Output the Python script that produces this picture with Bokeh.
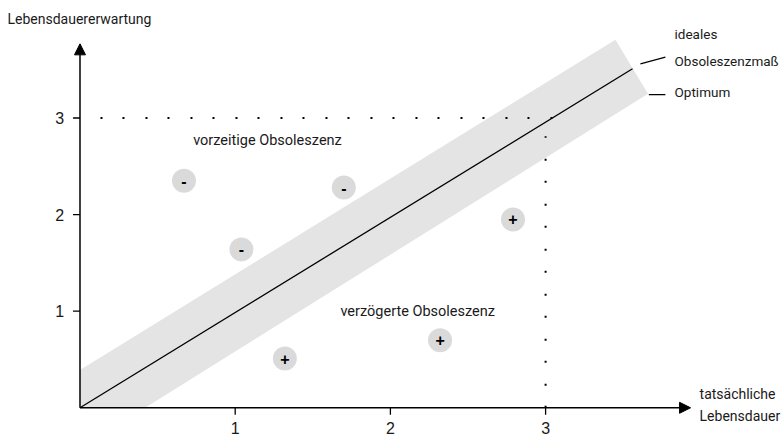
from bokeh.plotting import figure
from bokeh.models import Range1d, Arrow, NormalHead
from bokeh.core.properties import value
from bokeh.embed import file_html
from bokeh.resources import INLINE

# ---------------- data ----------------
x_ticks = [1, 2, 3]
y_ticks = [1, 2, 3]
tick_labels = ["1", "2", "3"]

# ideal obsolescence line (expected = actual)
ideal_x = [0.0, 3.56]
ideal_y = [0.0, 3.51]

# tolerance band around the ideal line
band_x = [0.0, 0.0, 3.45, 3.66, 0.42]
band_y = [0.0, 0.39, 3.81, 3.25, 0.0]

# optimum point (dotted guides)
optimum_x = 3.0
optimum_y = 3.0

# products: too early (-) and delayed (+)
minus_x = [0.67, 1.70, 1.04]
minus_y = [2.35, 2.28, 1.64]
plus_x = [1.32, 2.32, 2.79]
plus_y = [0.51, 0.70, 1.95]

title_text = "Lebensdauererwartung"
x_label = ["tatsächliche", "Lebensdauer"]
region_labels = ["vorzeitige Obsoleszenz", "verzögerte Obsoleszenz"]
line_labels = ["ideales", "Obsoleszenzmaß", "Optimum"]

# ---------------- layout ----------------
FONT = value("Roboto")
TXT = "#1a1a1a"

p = figure(width=783, height=437,
           x_range=Range1d(-0.5122, 4.5329), y_range=Range1d(-0.3075, 4.2164),
           output_backend="svg", toolbar_location=None,
           x_axis_type=None, y_axis_type=None, min_border=0,
           outline_line_color=None, background_fill_color="white",
           border_fill_color="white")

# band
p.patch(band_x, band_y, fill_color="#e4e4e4", line_color=None)

# ideal line
p.line(ideal_x, ideal_y, line_color="black", line_width=1.3)

# dotted guides to the optimum
p.line([0.132, optimum_x + 0.044], [optimum_y, optimum_y], line_color="black",
       line_width=2, line_dash="2 20 2 21")
p.line([optimum_x, optimum_x], [0, optimum_y - 0.19], line_color="black",
       line_width=2, line_dash="2 20 2 21")

# axes with arrows
head = dict(size=11, fill_color="black", line_color="black", line_width=1)
p.add_layout(Arrow(end=NormalHead(**head), x_start=0, y_start=0, x_end=3.934, y_end=0,
                   line_width=1.5, line_color="black"))
p.add_layout(Arrow(end=NormalHead(**head), x_start=0, y_start=0, x_end=0, y_end=3.768,
                   line_width=1.5, line_color="black"))

# ticks
p.segment(x0=x_ticks, y0=[0] * 3, x1=x_ticks, y1=[-0.072] * 3, line_color="black", line_width=1.3)
p.segment(x0=[0] * 3, y0=y_ticks, x1=[-0.045] * 3, y1=y_ticks, line_color="black", line_width=1.3)
p.text(x=x_ticks, y=[-0.205] * 3, text=tick_labels, text_font=value("Liberation Sans"),
       text_font_size="16px", text_align="center", text_baseline="middle", text_color=TXT)
p.text(x=[-0.102] * 3, y=y_ticks, text=tick_labels, text_font=value("Liberation Sans"),
       text_font_size="16px", text_align="right", text_baseline="middle", text_color=TXT)

# circles with signs
p.scatter(minus_x, minus_y, size=24, fill_color="#dadada", line_color=None)
p.scatter(plus_x, plus_y, size=24, fill_color="#dadada", line_color=None)
p.text(x=minus_x, y=minus_y, text=["-"] * len(minus_x), text_font=value("Liberation Sans"),
       text_font_size="16px", text_font_style="bold", text_align="center",
       text_baseline="middle", text_color="black")
p.text(x=plus_x, y=plus_y, text=["+"] * len(plus_x), text_font=value("Liberation Sans"),
       text_font_size="16px", text_font_style="bold", text_align="center",
       text_baseline="middle", text_color="black")

# labels
p.text(x=[-0.467], y=[4.023], text=[title_text], text_font=FONT, text_font_size="14px",
       text_align="left", text_baseline="middle", text_color=TXT)
p.text(x=[0.729, 1.678], y=[2.767, 0.994], text=region_labels, text_font=FONT,
       text_font_size="14.5px", text_align="left", text_baseline="middle", text_color=TXT)
p.text(x=[3.831, 3.831, 3.831], y=[3.866, 3.595, 3.266], text=line_labels, text_font=FONT,
       text_font_size="13.5px", text_align="left", text_baseline="middle", text_color=TXT)
p.text(x=[3.992, 3.992], y=[0.145, -0.085], text=x_label, text_font=FONT,
       text_font_size="14px", text_align="left", text_baseline="middle", text_color=TXT)

# leader lines
p.segment(x0=[3.611, 3.665], y0=[3.561, 3.243], x1=[3.772, 3.772], y1=[3.630, 3.243],
          line_color="black", line_width=1.2)

open("out.html", "w").write(file_html(p, INLINE))
